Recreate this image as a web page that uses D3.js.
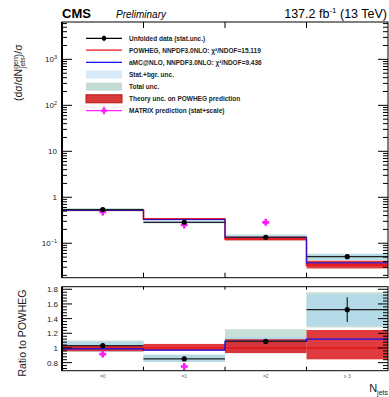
<!DOCTYPE html>
<meta charset="utf-8">
<style>
body { margin: 0; padding: 0; background: #fff; }
svg { font-family: "Liberation Sans", Arial, sans-serif; }
.tick-label { font-size: 8px; fill: #222; }
.legend text { font-size: 6.5px; font-weight: bold; fill: #222; }
</style>
<body>
<div id="chart"></div>
<script src="https://cdn.jsdelivr.net/npm/d3@7"></script>
<script>
// values
var bins = ["=0", "=1", "=2", "\u2265 3"];
var dataVal = [0.54, 0.285, 0.135, 0.051];
var powhegVal = [0.524, 0.335, 0.124, 0.0335];
var amcRatio = [0.987, 0.97, 1.09, 1.12];
var matrixVal = [0.48, 0.25, 0.285, null];
var dataErrRatio = [0.012, 0.012, 0.035, 0.17];
var totLo = [0.945, 0.81, 0.93, 1.28];
var totHi = [1.10, 0.91, 1.255, 1.76];
var statLo = [0.96, 0.815, 0.99, 1.30];
var statHi = [1.085, 0.905, 1.15, 1.73];
var theoLo = [0.955, 0.963, 0.93, 0.845];
var theoHi = [1.037, 1.055, 1.12, 1.245];
var upTickVals = [1000, 100, 10, 1, 0.1];
var upTickBase = ["10", "10", "10", "1", "10"];
var upTickExp = ["3", "2", "", "", "\u22121"];
var ratioTicks = [0.8, 1, 1.2, 1.4, 1.6, 1.8];
var legendLabels = [
  "Unfolded data (stat.unc.)",
  "POWHEG, NNPDF3.0NLO: \u03c7\u00b2/NDOF=15.119",
  "aMC@NLO, NNPDF3.0NLO: \u03c7\u00b2/NDOF=9.436",
  "Stat.+bgr. unc.",
  "Total unc.",
  "Theory unc. on POWHEG prediction",
  "MATRIX prediction (stat+scale)"
];

var W = 389, H = 397;
var left = 62, right = 388;
var top1 = 22, bot1 = 277.7, top2 = 286.7, bot2 = 370.7;

var colTot = "#c3dbd5", colStat = "#b3d9e8", colTheo = "#d9181c";
var colPow = "#e8141a", colAmc = "#1010f0", colMat = "#ff1aff";

var svg = d3.select("#chart").append("svg").attr("width", W).attr("height", H);

var x = d3.scaleLinear().domain([0, bins.length]).range([left, right]);
var y = d3.scaleLog().domain([0.0178, 6500]).range([bot1, top1]);
var yr = d3.scaleLinear().domain([0.69, 1.835]).range([bot2, top2]);

var idx = d3.range(bins.length);

function stepPath(vals, sc) {
  var p = d3.path();
  vals.forEach(function (v, i) {
    if (i === 0) p.moveTo(x(i), sc(v)); else p.lineTo(x(i), sc(v));
    p.lineTo(x(i + 1), sc(v));
  });
  return p.toString();
}

function crossPath(cx, cy, s, t) {
  return "M" + (cx - t) + "," + (cy - s) + "H" + (cx + t) + "V" + (cy - t) + "H" + (cx + s) +
    "V" + (cy + t) + "H" + (cx + t) + "V" + (cy + s) + "H" + (cx - t) + "V" + (cy + t) +
    "H" + (cx - s) + "V" + (cy - t) + "H" + (cx - t) + "Z";
}

// ---------- upper panel ----------
var up = svg.append("g");
up.append("clipPath").attr("id", "c1").append("rect")
  .attr("x", left).attr("y", top1).attr("width", right - left).attr("height", bot1 - top1);
var upc = up.append("g").attr("clip-path", "url(#c1)");

function bandRects(g, sc, lo, hi, scaleBy, fill, op) {
  g.selectAll(null).data(idx).enter().append("rect")
    .attr("x", function (i) { return x(i); })
    .attr("width", function (i) { return x(i + 1) - x(i); })
    .attr("y", function (i) { return sc(hi[i] * scaleBy[i]); })
    .attr("height", function (i) { return sc(lo[i] * scaleBy[i]) - sc(hi[i] * scaleBy[i]); })
    .attr("fill", fill).attr("fill-opacity", op);
}
var ones = idx.map(function () { return 1; });

bandRects(upc, y, totLo, totHi, powhegVal, colTot, 0.9);
bandRects(upc, y, statLo, statHi, powhegVal, colStat, 0.9);
bandRects(upc, y, theoLo, theoHi, powhegVal, colTheo, 0.85);

upc.append("path").attr("d", stepPath(powhegVal, y))
  .attr("fill", "none").attr("stroke", colPow).attr("stroke-width", 1.6);
upc.append("path").attr("d", stepPath(powhegVal.map(function (v, i) { return v * amcRatio[i]; }), y))
  .attr("fill", "none").attr("stroke", colAmc).attr("stroke-width", 1.2).attr("stroke-opacity", 0.8);

// data
upc.selectAll(null).data(idx).enter().append("line")
  .attr("x1", function (i) { return x(i); }).attr("x2", function (i) { return x(i + 1); })
  .attr("y1", function (i) { return y(dataVal[i]); }).attr("y2", function (i) { return y(dataVal[i]); })
  .attr("stroke", "#222").attr("stroke-width", 1.2);
upc.selectAll(null).data(idx.filter(function (i) { return matrixVal[i] !== null; })).enter().append("path")
  .attr("d", function (i) { return crossPath(x(i + 0.5), y(matrixVal[i]), 3.5, 1.3); })
  .attr("fill", colMat);
upc.selectAll(null).data(idx).enter().append("circle")
  .attr("cx", function (i) { return x(i + 0.5); }).attr("cy", function (i) { return y(dataVal[i]); })
  .attr("r", 2.6).attr("fill", "#000");

// frame & ticks
function logTicks(g, xPos, dir) {
  d3.range(-2, 4).forEach(function (e) {
    for (var m = 1; m < 10; m++) {
      var v = m * Math.pow(10, e);
      if (v < y.domain()[0] || v > y.domain()[1]) continue;
      var len = m === 1 ? 10 : 5;
      g.append("line").attr("x1", xPos).attr("x2", xPos + dir * len)
        .attr("y1", y(v)).attr("y2", y(v)).attr("stroke", "#000").attr("stroke-width", 1);
    }
  });
}
logTicks(up, left, 1);
logTicks(up, right, -1);
[1, 2, 3].forEach(function (b) {
  up.append("line").attr("x1", x(b)).attr("x2", x(b)).attr("y1", top1).attr("y2", top1 + 6).attr("stroke", "#000");
  up.append("line").attr("x1", x(b)).attr("x2", x(b)).attr("y1", bot1).attr("y2", bot1 - 5).attr("stroke", "#000");
});
up.append("rect").attr("x", left).attr("y", top1).attr("width", right - left).attr("height", bot1 - top1)
  .attr("fill", "none").attr("stroke", "#000").attr("stroke-width", 1);
up.append("line").attr("x1", left).attr("x2", left).attr("y1", top1).attr("y2", bot1)
  .attr("stroke", "#000").attr("stroke-width", 2);

// y tick labels (powers of ten)
upTickVals.forEach(function (v, i) {
  var t = svg.append("text").attr("class", "tick-label").attr("text-anchor", "end")
    .attr("x", 57).attr("y", y(v) + 3);
  t.append("tspan").text(upTickBase[i]);
  if (upTickExp[i]) t.append("tspan").attr("dy", -3.5).attr("font-size", "5.5px").text(upTickExp[i]);
});

// y title
var yt = svg.append("text").attr("transform", "translate(22,101) rotate(-90)")
  .attr("font-size", "10.5px").attr("fill", "#222");
yt.append("tspan").text("(d\u03c3/dN");
yt.append("tspan").attr("font-size", "7px").attr("dy", -4.5).text("gen");
yt.append("tspan").attr("font-size", "7px").attr("dx", -11).attr("dy", 7.5).text("jets");
yt.append("tspan").attr("dy", -3).text(")/\u03c3");

// ---------- legend ----------
var lg = svg.append("g").attr("class", "legend");
var rowY = [38.3, 50.2, 62.3, 74.4, 86.7, 98.8, 110.6];
var sx0 = 86, sx1 = 122;
legendLabels.forEach(function (lab, i) {
  lg.append("text").attr("x", 129).attr("y", rowY[i] + 2.3).text(lab);
});
lg.append("line").attr("x1", sx0).attr("x2", sx1).attr("y1", rowY[0]).attr("y2", rowY[0]).attr("stroke", "#000").attr("stroke-width", 1.2);
lg.append("line").attr("x1", 104).attr("x2", 104).attr("y1", rowY[0] - 3).attr("y2", rowY[0] + 3).attr("stroke", "#000").attr("stroke-width", 1);
lg.append("circle").attr("cx", 104).attr("cy", rowY[0]).attr("r", 2.4).attr("fill", "#000");
lg.append("line").attr("x1", sx0).attr("x2", sx1).attr("y1", rowY[1]).attr("y2", rowY[1]).attr("stroke", colPow).attr("stroke-width", 1.2);
lg.append("line").attr("x1", sx0).attr("x2", sx1).attr("y1", rowY[2]).attr("y2", rowY[2]).attr("stroke", colAmc).attr("stroke-width", 1.2);
lg.append("rect").attr("x", sx0).attr("y", rowY[3] - 4).attr("width", sx1 - sx0).attr("height", 8).attr("fill", "#d8e9f7");
lg.append("rect").attr("x", sx0).attr("y", rowY[4] - 4).attr("width", sx1 - sx0).attr("height", 8).attr("fill", colTot);
lg.append("rect").attr("x", sx0).attr("y", rowY[5] - 4).attr("width", sx1 - sx0).attr("height", 8)
  .attr("fill", "#d93a3a").attr("stroke", "#c01010").attr("stroke-width", 1);
lg.append("line").attr("x1", sx0).attr("x2", sx1).attr("y1", rowY[6]).attr("y2", rowY[6]).attr("stroke", colMat).attr("stroke-width", 1.4);
lg.append("line").attr("x1", 104).attr("x2", 104).attr("y1", rowY[6] - 4).attr("y2", rowY[6] + 4).attr("stroke", colMat).attr("stroke-width", 1);
lg.append("path").attr("d", crossPath(104, rowY[6], 3, 1.2)).attr("fill", colMat);

// ---------- header ----------
svg.append("text").attr("x", 62).attr("y", 18).attr("font-size", "13px").attr("font-weight", "bold").text("CMS");
svg.append("text").attr("x", 116).attr("y", 18).attr("font-size", "10px").attr("font-style", "italic").text("Preliminary");
var lumi = svg.append("text").attr("x", 387).attr("y", 18).attr("font-size", "12.5px").attr("text-anchor", "end");
lumi.append("tspan").text("137.2 fb");
lumi.append("tspan").attr("font-size", "8px").attr("dy", -5).text("-1");
lumi.append("tspan").attr("dy", 5).text(" (13 TeV)");

// ---------- ratio panel ----------
var lo = svg.append("g");
lo.append("clipPath").attr("id", "c2").append("rect")
  .attr("x", left).attr("y", top2).attr("width", right - left).attr("height", bot2 - top2);
var loc = lo.append("g").attr("clip-path", "url(#c2)");

bandRects(loc, yr, totLo, totHi, ones, colTot, 0.9);
bandRects(loc, yr, statLo, statHi, ones, colStat, 0.9);
bandRects(loc, yr, theoLo, theoHi, ones, colTheo, 0.85);

loc.append("path").attr("d", stepPath(ones, yr))
  .attr("fill", "none").attr("stroke", colPow).attr("stroke-width", 1.4);
loc.append("path").attr("d", stepPath(amcRatio, yr))
  .attr("fill", "none").attr("stroke", colAmc).attr("stroke-width", 1.4);

var dataRatio = dataVal.map(function (v, i) { return v / powhegVal[i]; });
loc.selectAll(null).data(idx).enter().append("line")
  .attr("x1", function (i) { return x(i); }).attr("x2", function (i) { return x(i + 1); })
  .attr("y1", function (i) { return yr(dataRatio[i]); }).attr("y2", function (i) { return yr(dataRatio[i]); })
  .attr("stroke", "#222").attr("stroke-width", 1.2);
loc.selectAll(null).data(idx).enter().append("line")
  .attr("x1", function (i) { return x(i + 0.5); }).attr("x2", function (i) { return x(i + 0.5); })
  .attr("y1", function (i) { return yr(dataRatio[i] - dataErrRatio[i]); })
  .attr("y2", function (i) { return yr(dataRatio[i] + dataErrRatio[i]); })
  .attr("stroke", "#222").attr("stroke-width", 1.2);
loc.selectAll(null).data(idx.filter(function (i) { return matrixVal[i] !== null; })).enter().append("path")
  .attr("d", function (i) { return crossPath(x(i + 0.5), yr(matrixVal[i] / powhegVal[i]), 3.5, 1.3); })
  .attr("fill", colMat);
loc.selectAll(null).data(idx).enter().append("circle")
  .attr("cx", function (i) { return x(i + 0.5); }).attr("cy", function (i) { return yr(dataRatio[i]); })
  .attr("r", 2.6).attr("fill", "#000");

// ratio ticks
d3.range(0.72, 1.835, 0.04).forEach(function (v) {
  var major = Math.abs(Math.round(v * 5) - v * 5) < 1e-6;
  var len = major ? 10 : 5;
  lo.append("line").attr("x1", left).attr("x2", left + len).attr("y1", yr(v)).attr("y2", yr(v)).attr("stroke", "#000");
  lo.append("line").attr("x1", right).attr("x2", right - len).attr("y1", yr(v)).attr("y2", yr(v)).attr("stroke", "#000");
});
ratioTicks.forEach(function (v) {
  lo.append("text").attr("class", "tick-label").attr("text-anchor", "end")
    .attr("x", 58).attr("y", yr(v) + 3).text(d3.format("~g")(v));
});
[1, 2, 3].forEach(function (b) {
  lo.append("line").attr("x1", x(b)).attr("x2", x(b)).attr("y1", top2).attr("y2", top2 + 3).attr("stroke", "#000");
  lo.append("line").attr("x1", x(b)).attr("x2", x(b)).attr("y1", bot2).attr("y2", bot2 - 4).attr("stroke", "#000");
});
lo.append("rect").attr("x", left).attr("y", top2).attr("width", right - left).attr("height", bot2 - top2)
  .attr("fill", "none").attr("stroke", "#000").attr("stroke-width", 1);
lo.append("line").attr("x1", left).attr("x2", left).attr("y1", top2).attr("y2", bot2)
  .attr("stroke", "#000").attr("stroke-width", 2);

lo.selectAll(null).data(idx).enter().append("text")
  .attr("x", function (i) { return x(i + 0.5); }).attr("y", 377.5)
  .attr("text-anchor", "middle").attr("font-size", "5px").attr("fill", "#666")
  .text(function (i) { return bins[i]; });

svg.append("text").attr("transform", "translate(26,333) rotate(-90)")
  .attr("text-anchor", "middle").attr("font-size", "10.5px").attr("fill", "#222").text("Ratio to POWHEG");

var nj = svg.append("text").attr("x", 388).attr("y", 392).attr("text-anchor", "end").attr("font-size", "11px").attr("fill", "#222");
nj.append("tspan").text("N");
nj.append("tspan").attr("font-size", "7px").attr("dy", 2.5).text("jets");
</script>
</body>
